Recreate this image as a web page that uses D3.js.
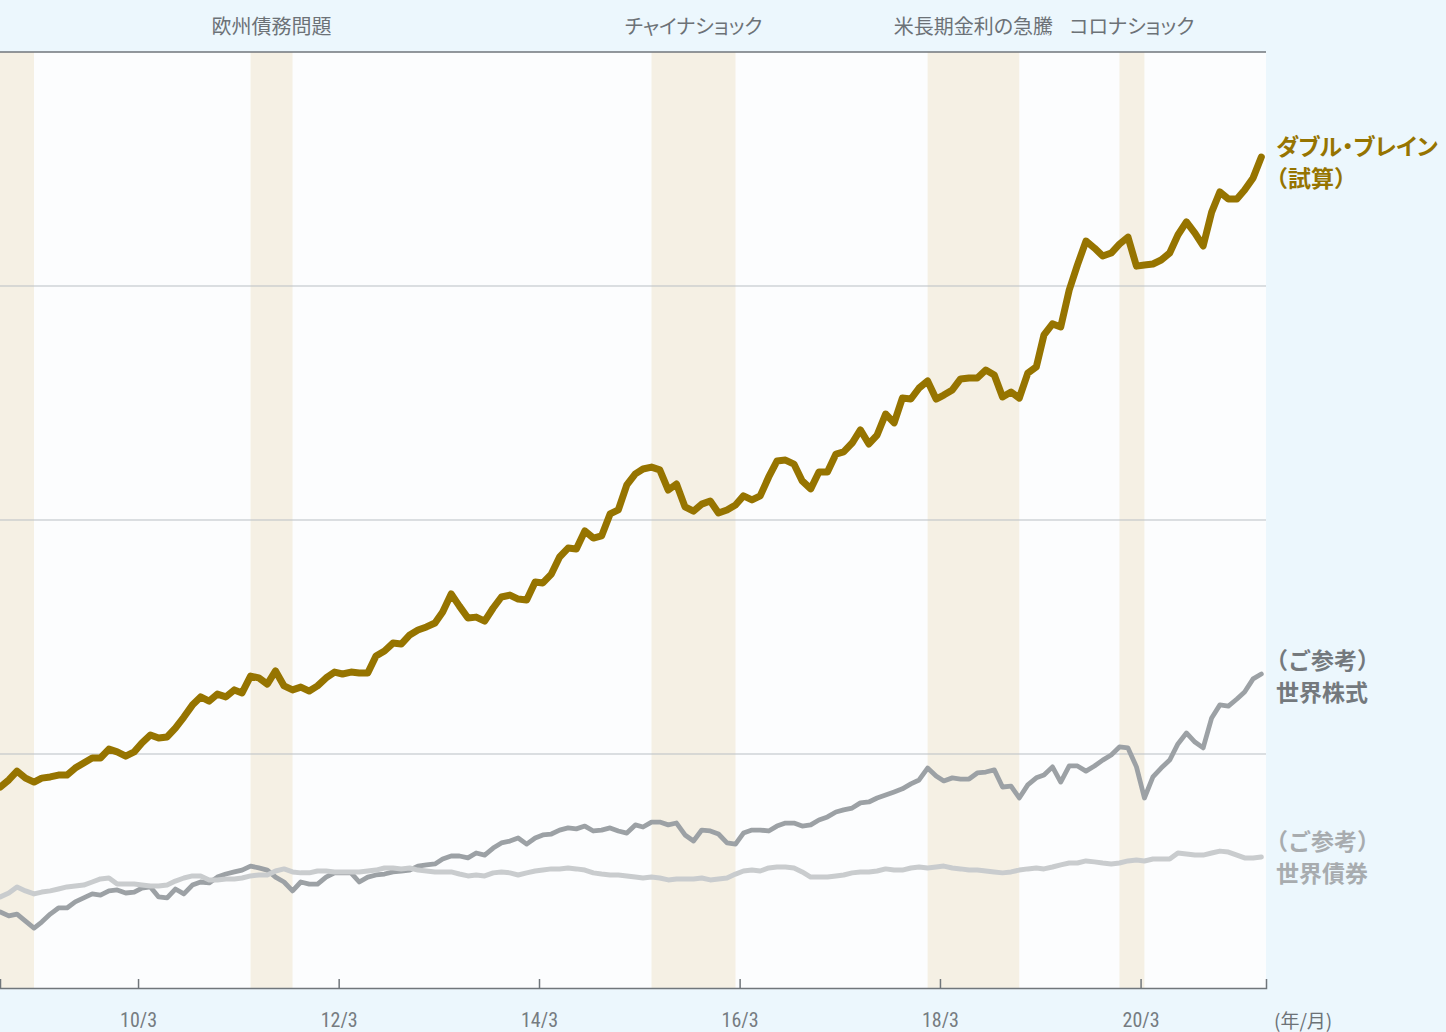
<!DOCTYPE html>
<html>
<head>
<meta charset="utf-8">
<script src="https://cdn.jsdelivr.net/npm/d3@7"></script>
<style>
  html, body { margin: 0; padding: 0; background: #ecf7fd; }
  svg { display: block; }
</style>
</head>
<body>
<div id="chart"></div>
<script>
// monthly points, 2008/10 .. 2021/5 (index values, gridline step = 100)
var firstMonth = new Date(2008, 9, 1);
var lastMonth = new Date(2021, 4, 1);

var doubleBrain = [
  85.9, 88.9, 92.7, 89.7, 88.0, 89.7, 90.2, 91.0, 91.0, 94.0, 96.2, 98.3, 98.3, 102.1, 100.9, 99.1,
  100.9, 104.7, 108.1, 106.8, 107.3, 111.1, 115.8, 120.9, 124.4, 122.6, 125.6, 124.4, 127.4, 126.1, 133.3, 132.5,
  129.9, 135.5, 129.1, 127.4, 128.6, 126.9, 129.1, 132.5, 135.0, 134.2, 135.0, 134.6, 134.6, 141.9, 144.0, 147.4,
  147.0, 150.9, 153.0, 154.3, 156.0, 160.7, 168.4, 163.2, 158.1, 158.5, 156.8, 162.4, 167.1, 167.9, 166.2, 165.8,
  173.5, 173.1, 176.9, 184.2, 188.0, 187.6, 195.3, 192.3, 193.2, 202.6, 204.3, 215.0, 219.7, 221.8, 222.6, 221.4,
  212.8, 215.4, 205.6, 203.8, 206.8, 208.1, 203.0, 204.3, 206.4, 210.3, 208.6, 210.3, 218.4, 225.2, 225.6, 223.9,
  216.7, 213.3, 220.5, 220.5, 228.2, 229.1, 232.9, 238.5, 232.5, 236.3, 245.3, 241.5, 252.1, 251.7, 256.4, 259.4,
  251.7, 253.4, 255.6, 260.3, 260.7, 260.7, 264.1, 262.0, 252.6, 254.7, 252.1, 262.8, 265.4, 279.1, 283.8, 282.5,
  298.3, 309.0, 319.2, 316.2, 312.8, 314.1, 317.9, 320.9, 308.5, 309.0, 309.4, 311.1, 314.1, 321.8, 327.4, 322.6,
  317.1, 331.6, 340.2, 337.2, 337.2, 341.0, 346.2, 355.1
];

var worldEquity = [
  32.5, 30.8, 31.6, 28.6, 25.6, 28.2, 31.6, 34.2, 34.2, 36.8, 38.5, 40.2, 39.7, 41.5, 41.9, 40.6,
  41.0, 42.7, 43.2, 38.9, 38.5, 42.3, 40.2, 44.0, 45.3, 44.9, 47.4, 48.7, 49.6, 50.4, 52.1, 51.3,
  50.4, 47.4, 45.3, 41.5, 45.3, 44.4, 44.4, 47.4, 49.2, 49.2, 49.2, 45.3, 47.4, 48.3, 48.7, 49.6,
  50.0, 50.4, 52.1, 52.6, 53.0, 55.1, 56.4, 56.4, 55.6, 57.7, 56.8, 59.8, 62.0, 62.8, 64.1, 61.5,
  64.1, 65.4, 65.8, 67.5, 68.4, 68.0, 69.2, 67.1, 67.5, 68.4, 67.1, 66.2, 69.7, 68.8, 70.9, 70.9,
  69.7, 70.5, 65.4, 62.8, 67.5, 67.1, 65.8, 62.0, 61.5, 66.2, 67.5, 67.5, 67.1, 69.2, 70.5, 70.5,
  69.2, 69.7, 71.8, 73.1, 75.2, 76.1, 76.9, 79.1, 79.5, 81.2, 82.5, 83.8, 85.1, 87.2, 88.9, 94.0,
  90.6, 88.5, 89.8, 89.3, 89.3, 91.9, 92.3, 93.2, 85.9, 86.3, 81.2, 86.8, 89.8, 91.0, 94.5, 88.0,
  94.9, 94.9, 92.7, 94.9, 97.4, 99.6, 103.0, 102.6, 94.5, 81.2, 90.2, 94.0, 97.4, 104.3, 109.0, 105.1,
  102.6, 115.4, 121.0, 120.5, 123.5, 126.5, 132.1, 134.2
];

var worldBond = [
  38.9, 40.6, 43.2, 41.5, 40.2, 41.0, 41.5, 42.3, 43.2, 43.6, 44.0, 45.3, 46.6, 47.0, 44.4, 44.4,
  44.4, 44.0, 43.6, 43.6, 44.0, 45.7, 47.0, 47.9, 47.9, 46.2, 46.2, 46.6, 46.6, 47.0, 47.9, 48.3,
  48.3, 50.0, 50.9, 49.6, 49.2, 49.2, 50.0, 50.0, 49.6, 49.6, 49.6, 49.6, 50.0, 50.4, 51.3, 51.3,
  50.9, 51.3, 50.4, 50.0, 49.6, 49.6, 49.6, 48.7, 47.9, 48.3, 47.9, 49.2, 49.6, 49.2, 48.3, 49.2,
  50.0, 50.4, 50.9, 50.9, 51.3, 50.9, 50.4, 49.2, 48.7, 48.3, 48.3, 47.9, 47.4, 47.0, 47.4, 47.0,
  46.2, 46.6, 46.6, 46.6, 47.0, 46.2, 46.6, 47.0, 48.7, 50.0, 50.4, 50.0, 51.3, 51.7, 51.7, 51.3,
  49.6, 47.4, 47.4, 47.4, 47.9, 48.3, 49.2, 49.6, 49.6, 50.0, 50.9, 50.4, 50.4, 51.3, 51.7, 51.3,
  51.7, 52.1, 51.3, 50.9, 50.4, 50.4, 50.0, 49.6, 49.2, 49.6, 50.4, 50.9, 51.3, 50.9, 51.7, 52.6,
  53.4, 53.4, 54.3, 53.9, 53.4, 53.0, 53.4, 54.3, 54.7, 54.3, 55.1, 55.1, 55.1, 57.7, 57.3, 56.8,
  56.8, 57.7, 58.5, 58.1, 56.8, 55.6, 55.6, 56.0
];

// market events (shaded periods, from month to month)
var eventStarts = ["2008-09", "2011-04", "2015-04", "2018-01", "2019-12"];
var eventEnds   = ["2009-02", "2011-09", "2016-02", "2018-12", "2020-03"];
var eventNames  = ["", "欧州債務問題", "チャイナショック", "米長期金利の急騰", "コロナショック"];

var tickYears = [2010, 2012, 2014, 2016, 2018, 2020];
var gridValues = [100, 200, 300];

var W = 1446, H = 1032;
var plot = {left: 0, top: 52, right: 1266, bottom: 988};
var jp = "'Noto Sans CJK JP', 'Noto Sans', sans-serif";
var gray = "#6c7277";

var parseMonth = d3.timeParse("%Y-%m");
var mid = function(d) { return d3.timeDay.offset(d, 14); };

var months = d3.timeMonth.range(firstMonth, d3.timeMonth.offset(lastMonth, 1)).map(mid);

function toSeries(vals) {
  return vals.map(function(v, i) { return {date: months[i], value: v}; });
}

var svg = d3.select("#chart").append("svg")
  .attr("width", W)
  .attr("height", H);

svg.append("rect")
  .attr("width", W).attr("height", H)
  .attr("fill", "#ecf7fd");

var x = d3.scaleTime()
  .domain([new Date(2008, 9, 14), new Date(2021, 5, 1)])
  .range([plot.left, plot.right]);

var y = d3.scaleLinear()
  .domain([0, 400])
  .range([plot.bottom, plot.top]);

svg.append("defs").append("clipPath")
  .attr("id", "plotclip")
  .append("rect")
  .attr("x", plot.left).attr("y", plot.top)
  .attr("width", plot.right - plot.left)
  .attr("height", plot.bottom - plot.top);

svg.append("rect")
  .attr("x", plot.left).attr("y", plot.top)
  .attr("width", plot.right - plot.left)
  .attr("height", plot.bottom - plot.top)
  .attr("fill", "#fcfdfe");

// shaded periods
var events = eventStarts.map(function(s, i) {
  return {start: mid(parseMonth(s)), end: mid(parseMonth(eventEnds[i])), name: eventNames[i]};
});

svg.append("g")
  .attr("clip-path", "url(#plotclip)")
  .selectAll("rect")
  .data(events)
  .enter()
  .append("rect")
  .attr("x", function(d) { return x(d.start); })
  .attr("width", function(d) { return x(d.end) - x(d.start); })
  .attr("y", plot.top)
  .attr("height", plot.bottom - plot.top)
  .attr("fill", "#f5f0e4");

svg.append("g")
  .selectAll("text")
  .data(events.filter(function(d) { return d.name; }))
  .enter()
  .append("text")
  .attr("x", function(d) { return (x(d.start) + x(d.end)) / 2; })
  .attr("y", 34)
  .attr("text-anchor", "middle")
  .style("font-family", jp)
  .style("font-size", "20px")
  .style("font-feature-settings", "'palt'")
  .attr("fill", gray)
  .text(function(d) { return d.name; });

// gridlines
svg.append("g")
  .selectAll("line")
  .data(gridValues)
  .enter()
  .append("line")
  .attr("x1", plot.left).attr("x2", plot.right)
  .attr("y1", function(d) { return y(d); })
  .attr("y2", function(d) { return y(d); })
  .attr("stroke", "#b9bfc4")
  .attr("stroke-width", 1);

svg.append("line")
  .attr("x1", plot.left).attr("x2", plot.right)
  .attr("y1", y(400)).attr("y2", y(400))
  .attr("stroke", "#70767b")
  .attr("stroke-width", 1.5);

// x axis
var xAxis = svg.append("g")
  .attr("transform", "translate(0," + plot.bottom + ")")
  .call(d3.axisBottom(x)
    .tickValues(tickYears.map(function(yr) { return new Date(yr, 2, 1); }))
    .tickSize(-9)
    .tickPadding(25)
    .tickFormat(d3.timeFormat("%y/%-m")));

xAxis.select(".domain")
  .attr("stroke", "#70767b")
  .attr("stroke-width", 1.5);
xAxis.selectAll(".tick line").attr("stroke", "#70767b").attr("stroke-width", 1.5);
xAxis.selectAll(".tick text")
  .attr("fill", "#767c81")
  .style("font-family", "'Liberation Sans Narrow', 'Roboto Condensed', Roboto, sans-serif")
  .style("font-size", "20px");

svg.append("text")
  .attr("x", 1274)
  .attr("y", 1028)
  .style("font-family", jp)
  .style("font-size", "19px")
  .attr("fill", gray)
  .text("(年/月)");

// lines
var line = d3.line()
  .x(function(d) { return x(d.date); })
  .y(function(d) { return y(d.value); });

var lines = svg.append("g").attr("clip-path", "url(#plotclip)");

var seriesList = [
  {data: worldEquity, color: "#9ca1a5", width: 4.8},
  {data: worldBond, color: "#c9ccce", width: 5},
  {data: doubleBrain, color: "#967400", width: 7}
];

seriesList.forEach(function(s) {
  lines.append("path")
    .datum(toSeries(s.data))
    .attr("fill", "none")
    .attr("stroke", s.color)
    .attr("stroke-width", s.width)
    .attr("stroke-linejoin", "round")
    .attr("stroke-linecap", "round")
    .attr("d", line);
});

// series labels
function label(rows, yTop, color, weight) {
  var t = svg.append("text")
    .style("font-family", jp)
    .style("font-size", "23px")
    .style("font-weight", weight)
    .attr("fill", color);
  rows.forEach(function(txt, i) {
    var paren = txt.charAt(0) == "（";
    t.append("tspan")
      .attr("x", paren ? 1265 : 1276)
      .attr("y", yTop + i * 32)
      .style("font-feature-settings", paren ? "normal" : "'palt'")
      .text(txt);
  });
}

label(["ダブル・ブレイン", "（試算）"], 155, "#967400", 700);
label(["（ご参考）", "世界株式"], 669, "#74797d", 700);
label(["（ご参考）", "世界債券"], 850, "#a8acaf", 700);
</script>
</body>
</html>
